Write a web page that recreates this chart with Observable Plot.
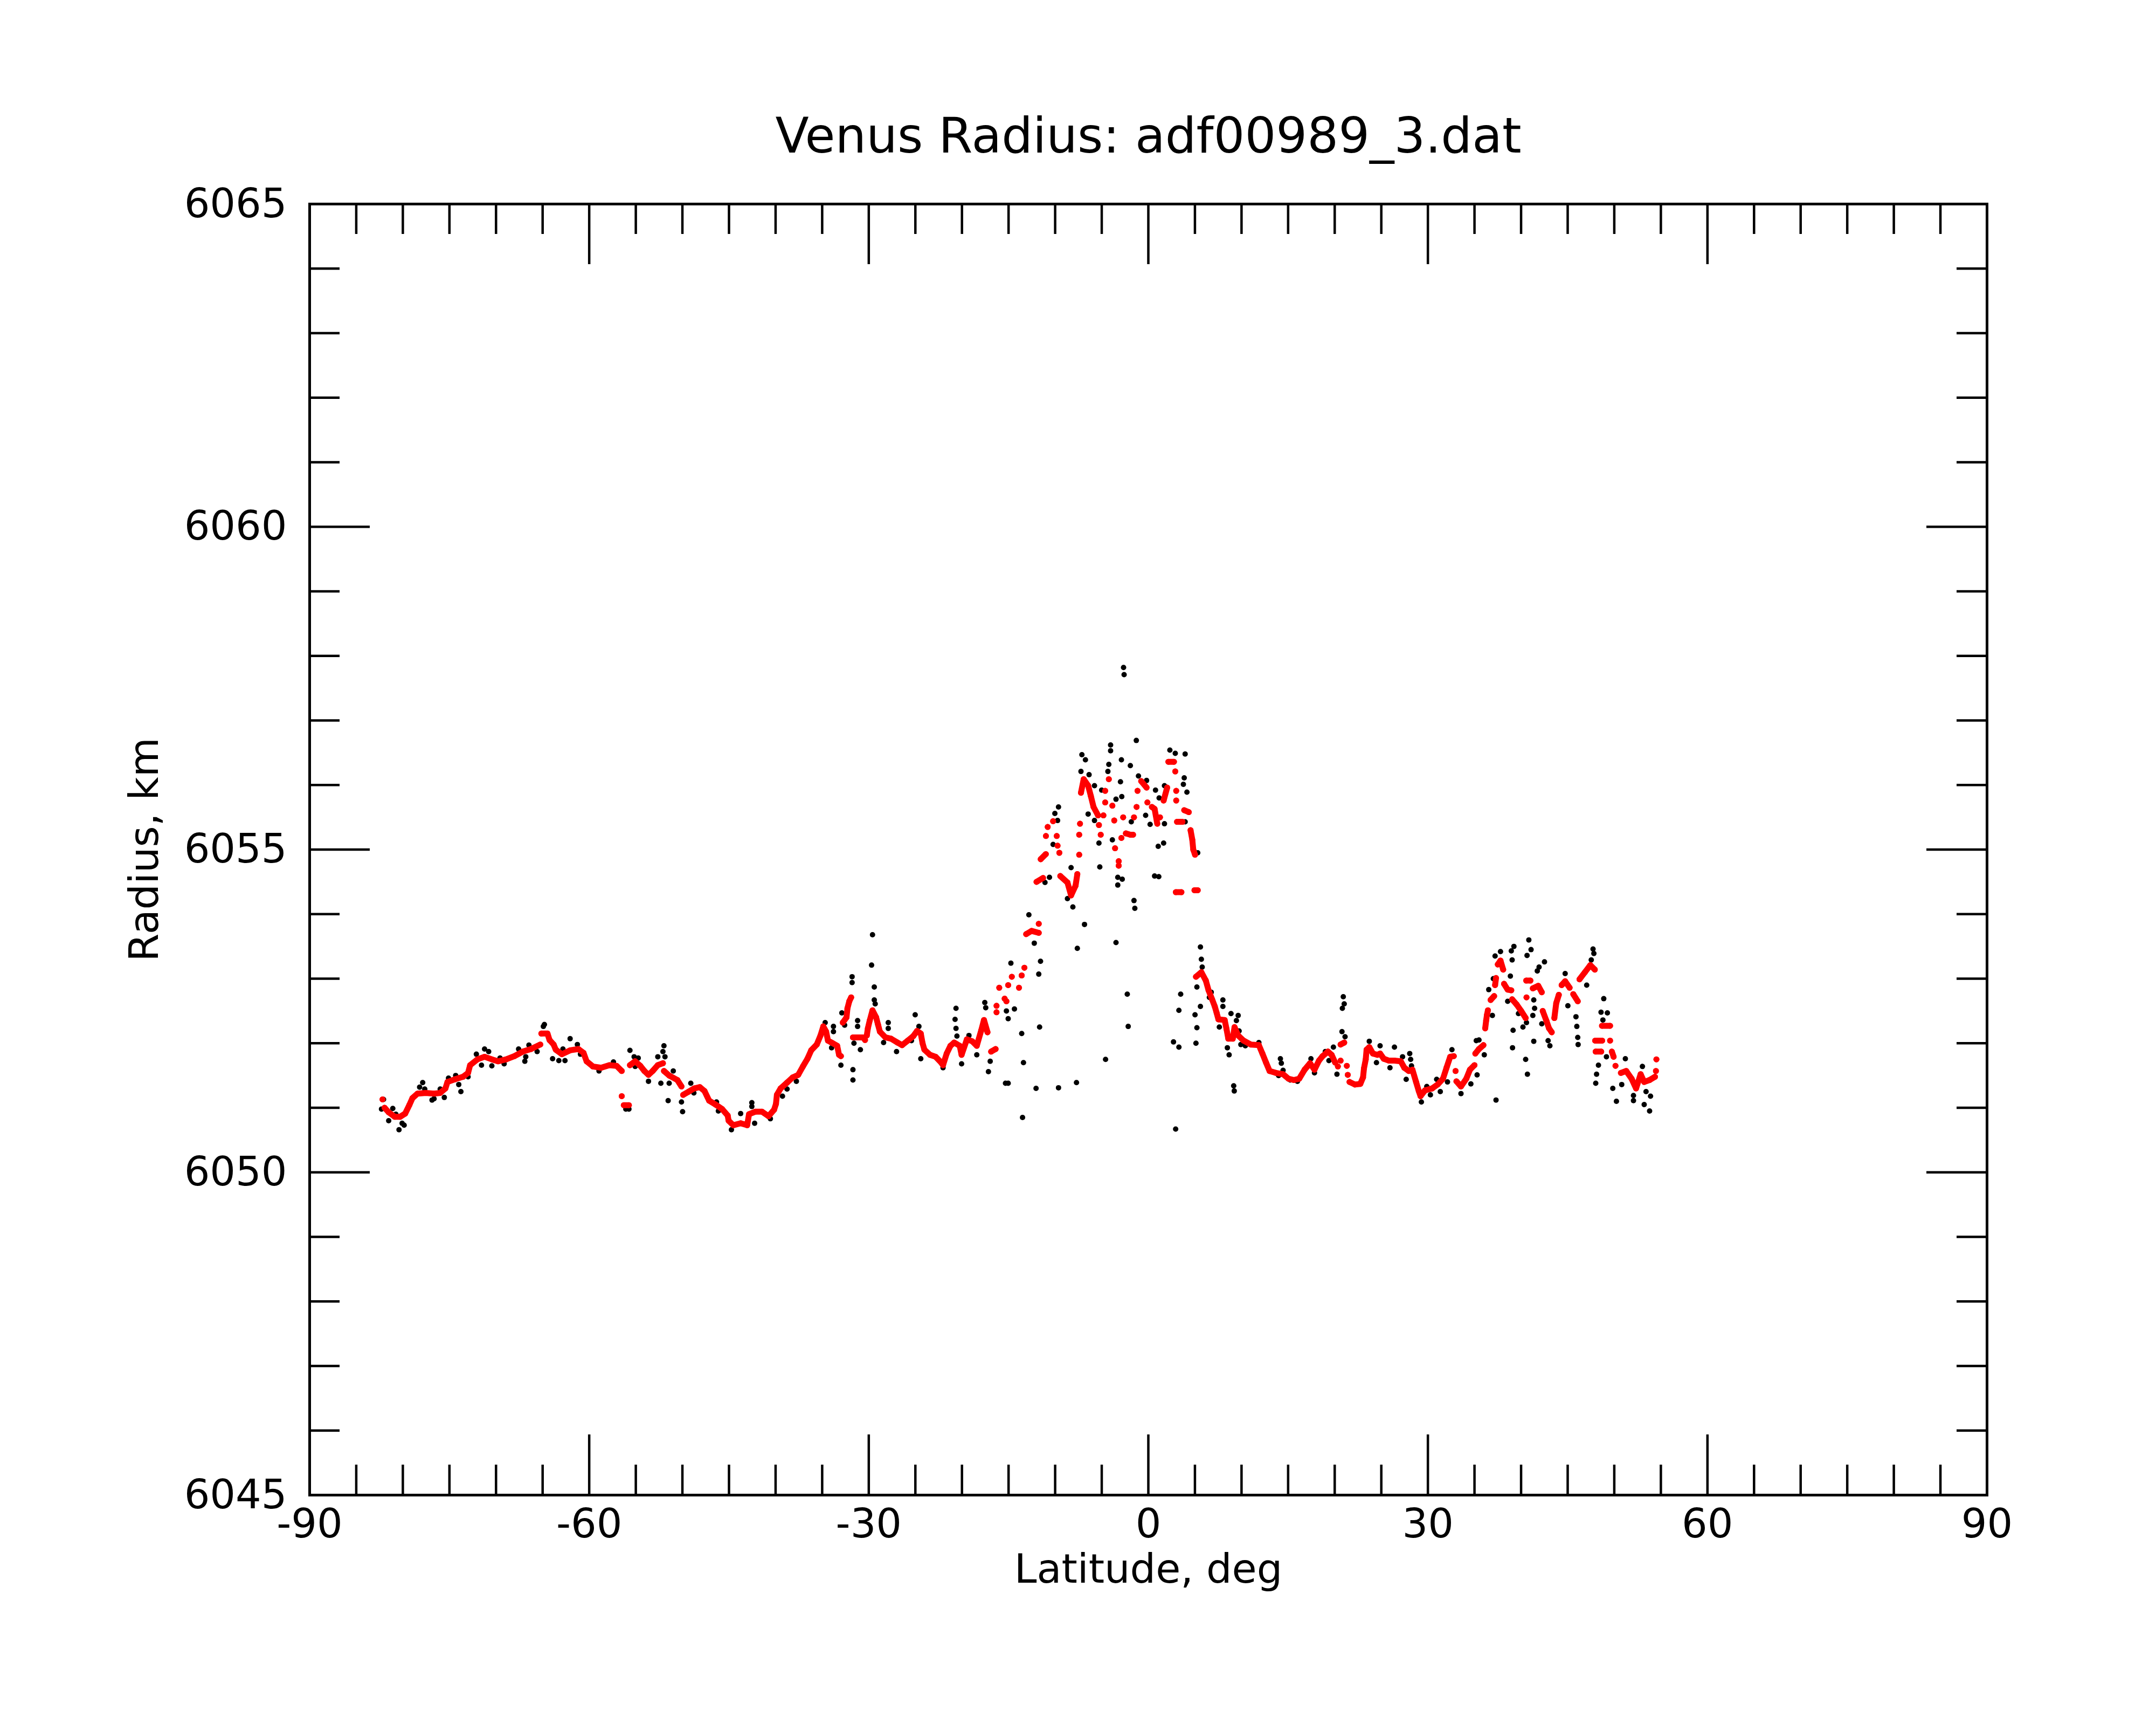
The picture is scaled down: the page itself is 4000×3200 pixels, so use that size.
<!DOCTYPE html>
<html>
<head>
<meta charset="utf-8">
<script src="https://cdn.jsdelivr.net/npm/d3@7"></script>
<script src="https://cdn.jsdelivr.net/npm/@observablehq/plot@0.6"></script>
<style>
html, body { margin: 0; padding: 0; background: #ffffff; }
#chart { width: 4000px; height: 3200px; }
</style>
</head>
<body>
<div id="chart"></div>
<script>
// ---- texts ----
const titleText = "Venus Radius: adf00989_3.dat";
const xLabelText = "Latitude, deg";
const yLabelText = "Radius, km";

// ---- ticks ----
const xMajorTicks = [-90, -60, -30, 0, 30, 60, 90];
const xMinorTicks = [-85, -80, -75, -70, -65, -55, -50, -45, -40, -35, -25, -20, -15, -10, -5,
                     5, 10, 15, 20, 25, 35, 40, 45, 50, 55, 65, 70, 75, 80, 85];
const yMajorTicks = [6045, 6050, 6055, 6060, 6065];
const yMinorTicks = [6046, 6047, 6048, 6049, 6051, 6052, 6053, 6054, 6056, 6057, 6058, 6059,
                     6061, 6062, 6063, 6064];

// ---- red (smoothed) points: [latitude, radius, track piece] ----
const redPoints = [
[-82.18,6051.13,1],
[-81.96,6051.00,2],[-81.52,6050.93,2],[-80.86,6050.86,2],[-80.30,6050.86,2],[-79.75,6050.91,2],[-79.31,6051.04,2],[-78.97,6051.15,2],[-78.42,6051.22,2],[-77.54,6051.23,2],[-76.65,6051.22,2],[-75.99,6051.23,2],[-75.43,6051.30,2],[-75.21,6051.40,2],[-74.44,6051.44,2],[-73.55,6051.48,2],[-73.00,6051.54,2],[-72.78,6051.66,2],[-72.00,6051.75,2],[-71.23,6051.79,2],[-70.45,6051.75,2],[-69.79,6051.72,2],[-68.91,6051.75,2],[-68.02,6051.80,2],[-67.13,6051.87,2],[-66.25,6051.91,2],[-65.25,6051.98,2],
[-65.14,6052.15,3],[-64.48,6052.15,3],[-64.26,6052.05,3],[-63.82,6051.98,3],[-63.59,6051.90,3],[-62.93,6051.83,3],[-62.05,6051.89,3],[-61.16,6051.91,3],[-60.61,6051.85,3],[-60.28,6051.72,3],[-59.61,6051.64,3],[-58.73,6051.62,3],[-57.84,6051.66,3],[-57.07,6051.65,3],[-56.51,6051.57,3],
[-56.51,6051.18,4],
[-56.29,6051.04,5],[-55.74,6051.04,5],
[-55.63,6051.66,6],[-55.07,6051.72,6],[-54.52,6051.65,6],[-54.08,6051.57,6],[-53.64,6051.51,6],[-53.19,6051.57,6],[-52.64,6051.66,6],[-52.09,6051.69,6],
[-51.98,6051.57,7],[-51.42,6051.50,7],[-50.54,6051.43,7],[-50.10,6051.33,7],
[-49.92,6051.20,8],[-49.32,6051.25,8],[-48.73,6051.30,8],[-48.13,6051.32,8],[-47.63,6051.26,8],[-47.13,6051.11,8],[-46.44,6051.05,8],[-45.74,6050.98,8],[-45.14,6050.88,8],[-45.04,6050.80,8],[-44.54,6050.73,8],[-43.75,6050.76,8],[-43.05,6050.73,8],[-42.85,6050.90,8],[-42.15,6050.94,8],[-41.46,6050.94,8],[-40.76,6050.87,8],[-40.16,6050.97,8],[-39.96,6051.06,8],[-39.86,6051.20,8],[-39.46,6051.30,8],[-38.77,6051.39,8],[-38.17,6051.47,8],[-37.57,6051.51,8],[-37.07,6051.64,8],[-36.58,6051.76,8],[-36.18,6051.89,8],[-35.58,6051.98,8],[-35.18,6052.12,8],[-34.88,6052.26,8],[-34.58,6052.18,8],[-34.38,6052.04,8],[-33.99,6052.01,8],[-33.39,6051.96,8],[-33.19,6051.82,8],[-32.99,6051.80,8],
[-32.79,6052.32,9],[-32.39,6052.40,9],[-32.29,6052.54,9],[-32.09,6052.65,9],[-31.89,6052.71,9],
[-31.70,6052.09,10],[-31.20,6052.09,10],[-30.60,6052.09,10],[-30.40,6052.05,10],
[-30.21,6052.12,11],[-30.10,6052.23,11],[-29.90,6052.35,11],[-29.60,6052.51,11],[-29.21,6052.40,11],[-29.01,6052.29,11],[-28.81,6052.18,11],[-28.21,6052.09,11],[-27.61,6052.07,11],[-26.92,6052.01,11],[-26.42,6051.97,11],[-25.82,6052.04,11],[-25.22,6052.11,11],[-24.82,6052.19,11],[-24.42,6052.15,11],[-24.23,6052.00,11],[-24.03,6051.90,11],[-23.43,6051.82,11],[-22.83,6051.79,11],[-22.23,6051.70,11],[-22.03,6051.66,11],[-21.64,6051.84,11],[-21.24,6051.96,11],[-20.84,6052.01,11],[-20.24,6051.96,11],[-20.04,6051.82,11],[-19.47,6052.06,11],[-18.90,6052.03,11],[-18.41,6051.96,11],[-17.93,6052.20,11],[-17.64,6052.36,11],[-17.26,6052.17,11],
[-16.87,6051.87,12],[-16.39,6051.91,12],
[-16.29,6052.58,13],[-16.29,6052.48,14],[-16.00,6052.86,15],[-15.42,6052.69,16],[-15.23,6052.65,17],[-15.04,6052.90,18],[-14.65,6053.03,19],[-13.88,6052.86,20],[-13.59,6053.05,21],[-13.30,6053.17,22],
[-13.11,6053.69,23],[-12.53,6053.74,23],[-11.76,6053.71,23],
[-11.76,6053.85,24],
[-12.00,6054.50,25],[-11.30,6054.56,25],
[-11.55,6054.85,26],[-11.00,6054.93,26],
[-10.99,6055.21,27],[-10.80,6055.35,28],[-10.22,6055.44,29],[-9.83,6055.21,30],[-9.74,6055.06,31],[-9.55,6054.95,32],
[-9.45,6054.59,33],[-8.68,6054.49,33],[-8.29,6054.29,33],[-7.81,6054.44,33],[-7.62,6054.62,33],
[-7.42,6054.92,34],[-7.42,6055.23,35],[-7.33,6055.40,36],
[-7.23,6055.88,37],[-6.94,6056.09,37],[-6.46,6055.99,37],[-6.17,6055.83,37],[-5.88,6055.66,37],[-5.40,6055.53,37],
[-5.30,6055.38,38],[-5.11,6055.23,39],[-4.82,6055.53,40],[-4.63,6055.73,41],[-4.63,6055.91,42],[-4.24,6056.09,43],[-3.86,6055.68,44],[-3.66,6055.45,45],[-3.57,6055.02,46],[-3.18,6054.82,47],[-3.18,6054.75,48],[-2.89,6055.18,49],[-2.70,6055.50,50],
[-2.41,6055.25,51],[-1.93,6055.23,51],[-1.64,6055.23,51],
[-1.54,6055.50,52],[-1.26,6055.66,53],[-1.16,6055.91,54],
[-0.77,6056.06,55],[-0.19,6055.96,55],
[-0.10,6055.73,56],
[0.38,6055.66,57],[0.67,6055.63,57],[0.96,6055.40,57],
[1.25,6055.50,58],
[1.64,6055.76,59],[2.02,6055.96,59],
[2.15,6056.36,60],[2.75,6056.36,60],
[2.89,6056.21,61],[2.99,6055.91,62],[2.99,6055.76,63],
[3.08,6055.43,64],[3.66,6055.43,64],
[3.85,6055.61,65],[4.34,6055.58,65],
[4.53,6055.30,66],[4.72,6055.15,66],[4.82,6055.00,66],[5.01,6054.92,66],
[2.95,6054.34,67],[3.55,6054.34,67],
[4.95,6054.37,68],[5.30,6054.37,68],
[5.11,6053.03,69],[5.69,6053.10,69],[6.17,6052.97,69],[6.46,6052.82,69],[6.84,6052.68,69],[7.13,6052.57,69],[7.33,6052.47,69],[7.52,6052.37,69],[8.19,6052.36,69],[8.39,6052.22,69],[8.58,6052.07,69],[9.06,6052.07,69],[9.25,6052.25,69],[9.64,6052.12,69],[10.22,6052.04,69],[10.99,6051.98,69],[11.86,6051.97,69],[12.24,6051.84,69],[12.63,6051.70,69],[13.01,6051.57,69],[13.69,6051.54,69],[14.46,6051.52,69],[15.04,6051.45,69],[15.62,6051.43,69],[16.19,6051.45,69],[16.77,6051.59,69],[17.35,6051.69,69],[17.83,6051.59,69],[18.31,6051.73,69],[18.70,6051.80,69],[19.28,6051.87,69],[19.67,6051.82,69],[20.05,6051.70,69],
[20.34,6051.64,70],
[20.63,6051.98,71],[21.02,6052.01,71],
[20.63,6051.73,72],[21.30,6051.65,73],[21.40,6051.51,74],
[21.59,6051.40,75],[22.17,6051.36,75],[22.75,6051.37,75],[23.04,6051.47,75],[23.14,6051.61,75],[23.33,6051.75,75],[23.42,6051.90,75],[23.71,6051.94,75],[24.10,6051.84,75],[24.58,6051.82,75],[24.87,6051.84,75],[25.26,6051.76,75],[25.83,6051.73,75],[26.41,6051.73,75],[27.09,6051.72,75],[27.47,6051.62,75],[27.95,6051.57,75],[28.34,6051.59,75],[28.73,6051.40,75],[29.02,6051.26,75],[29.21,6051.18,75],[29.69,6051.27,75],[30.46,6051.30,75],[31.04,6051.36,75],[31.62,6051.45,75],[32.00,6051.62,75],[32.39,6051.79,75],[32.78,6051.80,75],
[32.97,6051.57,76],
[33.06,6051.41,77],[33.55,6051.33,77],[34.12,6051.45,77],[34.51,6051.59,77],[35.00,6051.66,77],
[35.09,6051.84,78],[35.48,6051.91,78],[35.96,6051.97,78],
[36.15,6052.23,79],[36.25,6052.35,79],[36.34,6052.44,79],[36.44,6052.51,79],
[36.73,6052.67,80],[37.11,6052.73,80],
[37.21,6052.90,81],[37.31,6053.01,81],
[37.50,6053.22,82],[37.79,6053.28,82],[38.08,6053.14,82],
[38.17,6052.92,83],[38.56,6052.83,83],[38.95,6052.82,83],
[39.04,6052.68,84],[39.52,6052.60,84],[40.01,6052.50,84],[40.49,6052.39,84],
[40.58,6052.71,85],
[40.55,6052.97,86],[41.00,6052.97,86],
[41.26,6052.85,87],[41.84,6052.89,87],[42.22,6052.79,87],
[42.32,6052.50,88],[42.71,6052.35,88],[43.00,6052.23,88],[43.29,6052.17,88],
[43.57,6052.39,89],[43.77,6052.62,89],[44.05,6052.75,89],
[44.35,6052.90,90],[44.73,6052.96,90],[45.21,6052.86,90],
[45.60,6052.76,91],[46.08,6052.65,91],
[46.27,6052.99,92],[46.85,6053.10,92],[47.43,6053.21,92],[47.91,6053.14,92],
[48.68,6052.27,93],[49.55,6052.27,93],
[47.95,6052.04,94],[48.70,6052.04,94],
[48.00,6051.87,95],[48.60,6051.87,95],
[49.55,6052.04,96],
[49.74,6051.87,97],[49.93,6051.79,97],
[50.13,6051.65,98],
[50.71,6051.54,99],[51.28,6051.57,99],[51.86,6051.45,99],[52.34,6051.30,99],[52.83,6051.52,99],[53.21,6051.40,99],[53.79,6051.43,99],[54.37,6051.48,99],
[54.47,6051.57,100],[54.52,6051.75,101]
];

// ---- black (raw) points: [latitude, radius] ----
const blackPoints = [
[-82.07,6051.13],[-82.29,6050.98],[-81.08,6050.99],[-81.52,6050.80],[-80.75,6050.90],[-80.08,6050.76],[-79.86,6050.73],[-80.41,6050.66],
[-78.20,6051.32],[-77.87,6051.39],[-77.65,6051.29],[-76.87,6051.12],[-76.65,6051.14],[-75.99,6051.29],[-75.55,6051.16],[-75.10,6051.46],
[-74.33,6051.50],[-74.00,6051.36],[-73.77,6051.25],[-73.00,6051.48],[-72.11,6051.83],[-71.23,6051.91],[-70.79,6051.87],[-71.56,6051.66],
[-70.45,6051.65],[-69.57,6051.77],[-69.13,6051.68],[-67.58,6051.91],[-66.81,6051.79],[-66.91,6051.72],[-66.47,6051.97],[-65.59,6051.87],
[-64.81,6052.29],[-64.92,6052.26],[-63.93,6051.76],[-63.26,6051.73],[-62.60,6051.73],[-62.82,6051.91],[-62.05,6052.07],[-61.27,6051.98],
[-60.94,6051.83],[-58.95,6051.57],[-57.40,6051.71],[-56.07,6050.98],[-55.74,6050.98],[-55.63,6051.89],[-55.18,6051.79],[-55.07,6051.64],
[-54.74,6051.77],[-53.64,6051.41],[-52.64,6051.79],[-52.09,6051.87],[-51.98,6051.96],[-51.87,6051.79],[-52.31,6051.38],[-51.53,6051.11],
[-50.98,6051.57],[-51.42,6051.38],[-50.10,6051.09],[-49.98,6050.94],[-49.10,6051.38],[-48.77,6051.23],
[-46.34,6051.09],[-46.14,6050.95],[-44.74,6050.66],[-43.75,6050.91],[-42.55,6051.08],[-42.55,6051.02],[-42.25,6050.76],[-40.56,6050.83],
[-39.26,6051.18],[-38.77,6051.29],[-37.77,6051.41],[-34.68,6052.32],[-33.99,6051.93],[-33.79,6052.26],[-33.79,6052.18],[-32.99,6051.66],
[-32.89,6052.47],[-32.59,6052.28],[-31.79,6053.03],[-31.79,6052.94],[-31.70,6051.59],[-31.70,6051.43],[-31.20,6052.35],[-31.20,6052.26],
[-31.59,6052.00],[-30.90,6051.90],[-29.60,6053.68],[-29.70,6053.21],[-29.41,6052.87],[-29.41,6052.67],[-29.31,6052.61],[-27.91,6052.32],
[-27.91,6052.23],[-28.41,6052.01],[-27.02,6051.87],[-25.02,6052.44],[-24.62,6052.26],[-24.42,6051.76],[-25.42,6052.04],[-22.03,6051.62],
[-20.64,6052.54],[-20.74,6052.37],[-20.64,6052.23],[-20.54,6052.11],[-20.04,6051.68],[-19.25,6052.12],
[-18.41,6051.82],[-17.55,6052.63],[-17.45,6052.55],[-17.16,6051.56],[-16.97,6051.72],[-15.33,6051.38],[-15.04,6051.38],[-15.23,6052.50],
[-15.04,6052.38],[-14.37,6052.53],[-13.59,6052.15],[-13.40,6051.70],[-13.50,6050.85],[-14.75,6053.24],[-12.82,6053.99],[-12.24,6053.55],
[-11.57,6053.27],[-11.76,6053.07],[-12.05,6051.30],[-11.67,6052.25],[-11.96,6054.50],[-11.09,6054.49],[-10.61,6054.57],[-10.22,6055.08],
[-10.03,6055.56],
[-2.66,6057.82],[-2.60,6057.71],[-1.29,6056.69],[-4.05,6056.62],[-4.05,6056.53],[-7.13,6056.47],[-6.75,6056.39],[-4.24,6056.32],
[-2.89,6056.39],[-1.93,6056.30],[2.31,6056.54],[2.89,6056.49],[3.95,6056.48],[-7.23,6056.21],[-6.36,6056.16],[-4.34,6056.21],
[-1.06,6056.14],[-0.19,6056.07],[3.85,6056.11],[-5.78,6055.99],[-5.01,6055.92],[-2.99,6056.05],[0.77,6055.92],[1.73,6055.99],
[4.14,6055.89],[3.76,6056.01],[-9.64,6055.66],[-9.74,6055.45],[-6.46,6055.55],[-5.78,6055.45],[-3.47,6055.78],[-2.85,6055.82],
[-0.29,6055.53],[0.19,6055.39],[1.16,6055.80],[1.73,6055.40],[3.95,6055.43],[-5.30,6055.10],[-3.86,6055.15],[-1.83,6055.43],
[1.06,6055.05],[1.64,6055.10],[-5.21,6054.73],[-3.28,6054.57],[-2.80,6054.54],[-3.28,6054.45],[0.67,6054.59],[1.12,6054.58],
[5.30,6054.95],[-8.29,6054.72],[-8.68,6054.24],[-8.10,6054.11],[-1.54,6054.21],[-1.45,6054.09],[-6.85,6053.84],[-7.62,6053.47],
[-3.47,6053.56],[5.59,6053.49],[5.69,6053.30],[5.78,6053.18],[5.21,6052.87],[3.47,6052.76],[3.28,6052.51],[5.59,6052.57],
[5.01,6052.44],[5.21,6052.24],[-2.26,6052.76],[-2.16,6052.26],[2.70,6052.02],[3.28,6051.94],[5.11,6052.00],[-4.59,6051.75],
[-7.71,6051.39],[-9.64,6051.31],[2.93,6050.67],
[6.75,6052.79],[6.55,6052.71],[8.00,6052.67],[8.00,6052.57],[8.87,6052.46],[9.64,6052.43],[9.45,6052.35],[7.62,6052.25],
[8.48,6051.93],[8.67,6051.82],[9.16,6051.34],[9.22,6051.26],[9.74,6052.19],[9.93,6051.98],[10.41,6051.96],[11.86,6052.01],
[14.17,6051.76],[14.27,6051.69],[14.46,6051.58],[13.98,6051.50],[15.23,6051.43],[16.00,6051.41],[17.45,6051.76],[17.83,6051.54],
[18.99,6051.87],[19.38,6051.73],[19.86,6051.94],[20.24,6051.52],[20.92,6052.72],[21.02,6052.61],[20.82,6052.54],[20.78,6052.18],
[21.11,6052.10],[23.71,6052.03],[24.87,6051.96],[24.48,6051.70],[25.93,6051.62],[26.41,6051.94],[27.28,6051.79],[28.05,6051.84],
[28.15,6051.75],[28.24,6051.65],[27.67,6051.44],[29.30,6051.09],
[29.88,6051.33],[30.27,6051.20],[31.33,6051.25],[30.94,6051.44],[32.10,6051.40],[32.58,6051.90],[33.55,6051.22],[34.61,6051.37],
[35.28,6051.51],[35.19,6052.04],[35.48,6052.05],[36.05,6051.82],[37.31,6051.12],[36.92,6052.43],[36.53,6052.83],[37.02,6053.00],
[37.21,6053.35],[37.79,6053.42],[38.85,6053.04],[38.95,6053.43],[39.23,6053.50],[39.04,6053.29],[38.56,6052.65],[39.14,6052.20],
[39.08,6051.93],[40.20,6052.25],[40.58,6052.32],[39.72,6052.46],[40.49,6051.75],[40.68,6051.52],[40.83,6053.60],[41.07,6053.45],
[40.64,6053.36],[41.36,6052.67],[41.45,6052.54],[41.26,6052.43],[41.36,6052.03],[41.74,6053.12],[41.93,6053.18],[42.51,6053.26],
[42.22,6052.30],[42.90,6052.04],[43.09,6051.96],[44.73,6053.08],[45.02,6052.58],[45.89,6052.41],[45.98,6052.26],[46.08,6052.09],
[46.12,6051.98],[47.04,6052.90],[47.72,6053.46],[47.81,6053.39],[47.53,6053.29],[48.87,6052.69],[48.58,6052.48],[49.26,6052.47],
[48.78,6052.36],[48.30,6051.66],[48.10,6051.52],[48.01,6051.38],[49.16,6051.79],[49.84,6051.30],[50.23,6051.10],[50.80,6051.36],
[51.19,6051.76],[52.06,6051.11],[52.06,6051.19],[53.02,6051.64],[53.21,6051.05],[53.79,6050.95],[53.89,6051.18],[53.41,6051.25]
];

// ---- tables for Plot ----
const red = redPoints.map(([lat, radius, piece]) => ({lat, radius, piece}));
const black = blackPoints.map(([lat, radius]) => ({lat, radius}));

// ---- layout ----
const W = 4000, H = 3200;
const mL = 574, mR = 314, mT = 378, mB = 427;
const fw = W - mL - mR, fh = H - mT - mB;
const majorLen = 112, minorLen = 56;
const fmt = d => String(d);

const chart = Plot.plot({
  width: W,
  height: H,
  marginLeft: mL,
  marginRight: mR,
  marginTop: mT,
  marginBottom: mB,
  style: {fontFamily: "DejaVu Sans", background: "#ffffff", color: "#000000", overflow: "visible"},
  x: {domain: [-90, 90], axis: null},
  y: {domain: [6045, 6065], axis: null},
  marks: [
    Plot.dot(black, {x: "lat", y: "radius", r: 5, fill: "#000000", stroke: "none"}),
    Plot.line(red, {x: "lat", y: "radius", z: "piece", stroke: "#ff0000", strokeWidth: 11}),
    Plot.dot(red, {x: "lat", y: "radius", r: 5.5, fill: "#ff0000", stroke: "none"}),
    // x ticks (inward, bottom and top)
    Plot.tickX(xMajorTicks, {x: d => d, insetTop: fh - majorLen, strokeWidth: 4.5, stroke: "#000"}),
    Plot.tickX(xMajorTicks, {x: d => d, insetBottom: fh - majorLen, strokeWidth: 4.5, stroke: "#000"}),
    Plot.tickX(xMinorTicks, {x: d => d, insetTop: fh - minorLen, strokeWidth: 4.5, stroke: "#000"}),
    Plot.tickX(xMinorTicks, {x: d => d, insetBottom: fh - minorLen, strokeWidth: 4.5, stroke: "#000"}),
    // y ticks (inward, left and right)
    Plot.tickY(yMajorTicks, {y: d => d, insetRight: fw - majorLen, strokeWidth: 4.5, stroke: "#000"}),
    Plot.tickY(yMajorTicks, {y: d => d, insetLeft: fw - majorLen, strokeWidth: 4.5, stroke: "#000"}),
    Plot.tickY(yMinorTicks, {y: d => d, insetRight: fw - minorLen, strokeWidth: 4.5, stroke: "#000"}),
    Plot.tickY(yMinorTicks, {y: d => d, insetLeft: fw - minorLen, strokeWidth: 4.5, stroke: "#000"}),
    Plot.frame({stroke: "#000", strokeWidth: 5}),
    // tick labels
    Plot.axisX(xMajorTicks, {anchor: "bottom", tickSize: 0, tickPadding: 25, fontSize: 75, tickFormat: fmt, label: null}),
    Plot.axisY(yMajorTicks, {anchor: "left", tickSize: 0, tickPadding: 42, fontSize: 75, tickFormat: fmt, label: null}),
    // axis titles and chart title
    Plot.text([xLabelText], {text: d => d, frameAnchor: "bottom", dy: 162, lineAnchor: "bottom", textAnchor: "middle", fontSize: 75, fill: "#000"}),
    Plot.text([yLabelText], {text: d => d, frameAnchor: "left", dx: -282, rotate: -90, lineAnchor: "bottom", textAnchor: "middle", fontSize: 75, fill: "#000"}),
    Plot.text([titleText], {text: d => d, frameAnchor: "top", dy: -96, lineAnchor: "bottom", textAnchor: "middle", fontSize: 91, fill: "#000"})
  ]
});
document.getElementById("chart").appendChild(chart);
</script>
</body>
</html>
